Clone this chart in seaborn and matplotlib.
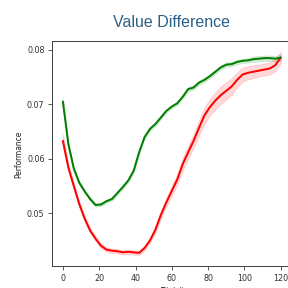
import matplotlib
matplotlib.use("Agg")
import matplotlib.pyplot as plt
import numpy as np
import pandas as pd
import seaborn as sns

trials = list(range(0, 121, 3))

green_mean = [0.0705, 0.0627, 0.0582, 0.0556, 0.0540, 0.0526, 0.0515, 0.0516, 0.0522, 0.0526,
              0.0537, 0.0548, 0.0560, 0.0578, 0.0612, 0.0640, 0.0655, 0.0664, 0.0676, 0.0688,
              0.0696, 0.0702, 0.0714, 0.0728, 0.0731, 0.0740, 0.0745, 0.0752, 0.0760, 0.0768,
              0.0773, 0.0774, 0.0778, 0.0780, 0.0781, 0.0783, 0.0784, 0.0785, 0.0785, 0.0784,
              0.0786]
green_ci = [0.0008, 0.0004, 0.0003, 0.0003, 0.0003, 0.0003, 0.0003, 0.0003, 0.0003, 0.0003,
            0.0003, 0.0003, 0.0003, 0.0003, 0.0003, 0.0003, 0.0003, 0.0003, 0.0003, 0.0003,
            0.0003, 0.0003, 0.0003, 0.0004, 0.0004, 0.0004, 0.0004, 0.0004, 0.0004, 0.0004,
            0.0004, 0.0004, 0.0004, 0.0004, 0.0004, 0.0005, 0.0005, 0.0005, 0.0005, 0.0005,
            0.0006]

red_mean = [0.0633, 0.0584, 0.0550, 0.0517, 0.0490, 0.0468, 0.0453, 0.0440, 0.0433, 0.0431,
            0.0430, 0.0428, 0.0429, 0.0428, 0.0427, 0.0436, 0.0450, 0.0470, 0.0497, 0.0520,
            0.0541, 0.0562, 0.0590, 0.0612, 0.0633, 0.0657, 0.0680, 0.0695, 0.0707, 0.0717,
            0.0725, 0.0733, 0.0745, 0.0755, 0.0758, 0.0760, 0.0762, 0.0764, 0.0766, 0.0772,
            0.0786]
red_ci = [0.0012, 0.0007, 0.0006, 0.0005, 0.0005, 0.0005, 0.0004, 0.0004, 0.0004, 0.0004,
          0.0004, 0.0004, 0.0004, 0.0004, 0.0004, 0.0004, 0.0005, 0.0006, 0.0007, 0.0008,
          0.0009, 0.0010, 0.0011, 0.0012, 0.0013, 0.0014, 0.0015, 0.0015, 0.0016, 0.0016,
          0.0016, 0.0015, 0.0014, 0.0013, 0.0012, 0.0012, 0.0011, 0.0011, 0.0011, 0.0011,
          0.0011]

y_ticks = [0.05, 0.06, 0.07, 0.08]
x_ticks = [0, 20, 40, 60, 80, 100, 120]

sns.set_style("ticks")

fig = plt.figure(figsize=(4, 4), dpi=72)
ax = fig.add_axes([0.1806, 0.0747, 0.832, 0.782])

df = pd.DataFrame({"trial": trials, "green": green_mean, "red": red_mean,
                   "gci": green_ci, "rci": red_ci})

for col, ci, color in [("red", "rci", "red"), ("green", "gci", "green")]:
    ax.fill_between(df["trial"], df[col] - df[ci], df[col] + df[ci],
                    color=color, alpha=0.15, linewidth=0.8)
    sns.lineplot(data=df, x="trial", y=col, color=color, linewidth=2, ax=ax)

ax.set_xlim(-6, 126)
ax.set_ylim(0.0402, 0.0816)
ax.set_xticks(x_ticks)
ax.set_yticks(y_ticks)
ax.set_yticklabels([f"{v:.2f}" for v in y_ticks])
ax.tick_params(labelsize=8, length=4, width=0.8, colors="#333333")
ax.set_xlabel("Trial #", fontsize=7.5, color="#222222")
ax.set_ylabel("Performance", fontsize=7.5, color="#222222")
for s in ax.spines.values():
    s.set_color("#444444")
    s.set_linewidth(1)
ax.set_title("Value Difference", fontsize=16, color="#2b6088",
             family="Liberation Sans", pad=14)

fig.savefig("out.png", dpi=72)
